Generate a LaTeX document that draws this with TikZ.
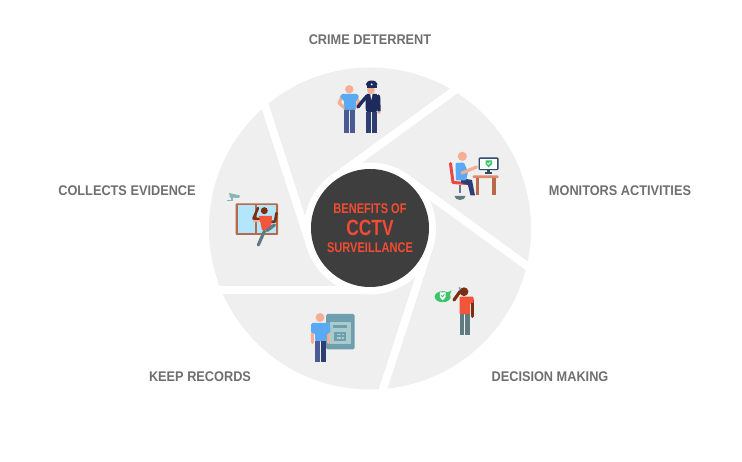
\documentclass[tikz,border=0pt]{standalone}
\usepackage{fontspec}
\setmainfont{Liberation Sans}
\newfontfamily\labelfont[FakeStretch=0.91]{Liberation Sans}
\newfontfamily\hubfont[FakeStretch=0.79]{Liberation Sans}
\definecolor{disc}{HTML}{EFEFEF}
\definecolor{hub}{HTML}{3E3E3E}
\definecolor{hubtext}{HTML}{F44B32}
\definecolor{labeltext}{HTML}{6F6F6F}
\definecolor{skin}{HTML}{F5AE93}
\definecolor{shirt}{HTML}{5AA9F5}
\definecolor{jeans}{HTML}{4A5A94}
\definecolor{navy}{HTML}{1D2B5C}
\definecolor{redshirt}{HTML}{F2553A}
\definecolor{brownskin}{HTML}{7A2F12}
\definecolor{slate}{HTML}{5F7A80}
\definecolor{wood}{HTML}{B8694A}
\definecolor{woodtop}{HTML}{E08A6B}
\definecolor{chair}{HTML}{F04545}
\definecolor{screen}{HTML}{2E4D6B}
\definecolor{safe}{HTML}{3CC46A}
\definecolor{glass}{HTML}{B3E5FC}
\definecolor{panel}{HTML}{6F9FAE}
\definecolor{panelin}{HTML}{A8CCCC}
\definecolor{camera}{HTML}{8CB4B8}
\tikzset{gap/.style={draw=white,line width=8pt}}
\tikzset{limb/.style={line cap=round,line join=round}}
\tikzset{caption/.style={font=\labelfont\bfseries\fontsize{14}{16}\selectfont,text=labeltext,inner sep=0pt}}
\tikzset{hubline/.style={font=\hubfont\bfseries\fontsize{14}{16}\selectfont,text=hubtext,inner sep=0pt}}

\begin{document}
\begin{tikzpicture}[x=1pt,y=-1pt]
    \useasboundingbox (0,0) rectangle (742,462);
    \fill[white] (0,0) rectangle (742,462);
    \fill[disc] (370,228.5) circle (161);
    \begin{scope}[shift={(370,228.5)}]
      \foreach \a in {-90,-162,126,54,-18}
        \draw[gap] (\a:62pt) -- ++(\a-90:156pt);
      \fill[white] (0,0) circle (66);
    \end{scope}
    \node[circle,fill=hub,minimum size=118pt,inner sep=0pt] (hubdisc) at (370,228) {};
    \node[hubline] (hubtop) at (370,208.5) {BENEFITS OF};
    \node[hubline,font=\hubfont\bfseries\fontsize{22}{24}\selectfont] (hubmid) at (370,227.5) {CCTV};
    \node[hubline] (hubbot) at (370,248) {SURVEILLANCE};
    \node[caption] (crime) at (370,40) {CRIME DETERRENT};
    \node[caption] (monitors) at (620,191) {MONITORS ACTIVITIES};
    \node[caption] (collects) at (127,191) {COLLECTS EVIDENCE};
    \node[caption] (records) at (200,377) {KEEP RECORDS};
    \node[caption] (decision) at (550,377) {DECISION MAKING};
    \fill[skin] (349.3,89.3) circle (4.2);
    \draw[limb,skin,line width=3.2pt] (342,97) -- (339,103) -- (347,110);
    \draw[limb,skin,line width=3.2pt] (356,97) -- (359,103) -- (352,110);
    \fill[shirt,rounded corners=1.5pt] (341,94) -- (358,94) -- (359,98) -- (356,100) -- (355.5,111) -- (344.5,111) -- (344,100) -- (340,98) -- cycle;
    \draw[limb,panel,line width=1.2pt] (345,109) -- (348.5,110);
    \draw[limb,panel,line width=1.2pt] (351,110) -- (354.5,109);
    \fill[jeans] (344.3,110.5) rectangle (349.2,132.7);
    \fill[jeans] (350.2,110.5) rectangle (355,132.7);
    \draw[limb,navy,line width=3.4pt] (367,96) -- (361,103) -- (358,107);
    \draw[limb,navy,line width=3.4pt] (378.5,96) -- (379,111);
    \fill[skin] (379,112.5) circle (1.6);
    \fill[skin] (371,90) circle (4);
    \fill[navy,rounded corners=1.5pt] (365.5,94) -- (378,94) -- (377.3,112) -- (365.8,112) -- cycle;
    \fill[white] (370.2,94) -- (372.5,94) -- (371.3,100) -- cycle;
    \fill[jeans!40!navy] (366,112) rectangle (370.8,132.7);
    \fill[jeans!40!navy] (372,112) rectangle (377,132.7);
    \fill[navy] (371.7,84.3) ellipse (5.8 and 3.8);
    \fill[navy] (367,86) rectangle (376.5,88);
    \fill[white] (371.7,84.3) circle (1);
    \draw[limb,chair,line width=3pt] (450.5,163.5) -- (453,182.5) -- (467,183.5);
    \draw[slate,line width=2pt] (460,185) -- (460,193);
    \fill[slate] (454.5,196) arc[start angle=180,end angle=360,x radius=5.5,y radius=-4] -- cycle;
    \fill[jeans!40!navy] (461,178) -- (472,180) -- (475,195.5) -- (470.5,195.5) -- (468,185) -- (461,183) -- cycle;
    \fill[skin] (462.3,156.3) circle (4.6);
    \fill[shirt,rounded corners=1pt] (455.5,163) -- (464,162.5) -- (468,172) -- (466,180.5) -- (456,180.5) -- cycle;
    \draw[limb,skin,line width=3.2pt] (462,173) -- (476.5,167);
    \fill[woodtop,rounded corners=1pt] (472.7,175.5) rectangle (498.5,178.2);
    \fill[wood] (475.7,178) rectangle (479,195.5);
    \fill[wood] (492,178) rectangle (495.5,195.5);
    \fill[screen,rounded corners=1pt] (478.7,157.3) rectangle (498.5,170.2);
    \fill[white] (480.3,159) rectangle (497,168.6);
    \fill[screen] (487,170) rectangle (490,172.5);
    \fill[screen] (485,172.5) rectangle (492,174);
    \fill[safe] (485.5,160.5) -- (492,160.5) -- (492,164) -- (488.7,167.5) -- (485.5,164) -- cycle;
    \draw[limb,white,line width=.7pt] (487.2,163) -- (488.5,164.3) -- (490.4,162);
    \fill[wood,rounded corners=1pt] (235.5,203.3) rectangle (278,235);
    \fill[glass] (237.5,205.5) rectangle (255,233);
    \fill[glass] (257,205.5) rectangle (276,233);
    \draw[limb,brownskin,line width=2.6pt] (258,208) -- (253.5,218.5) -- (259,219);
    \draw[limb,brownskin,line width=2.6pt] (276.5,213) -- (275,221.5) -- (270,222);
    \draw[limb,skin,line width=2pt] (253.5,220.8) -- (260,220.8);
    \fill[redshirt] (259,216) -- (272,216) -- (271,230) -- (262,230) -- cycle;
    \fill[brownskin] (264.3,210.7) circle (3.5);
    \draw[limb,slate,line width=3.2pt] (264.5,231) -- (258.3,245);
    \draw[limb,slate,line width=3.2pt] (267,230.5) -- (274.5,225);
    \fill[camera] (229,193) -- (240,195.5) -- (239,198) -- (230,197.5) -- cycle;
    \draw[camera,line width=1.5pt] (226.7,200.7) -- (232,200.7) -- (232,196);
    \fill[panel,rounded corners=1.5pt] (326,314) rectangle (354.5,349.5);
    \fill[panelin] (330,321.7) rectangle (350.7,344.3);
    \fill[panel] (333.3,325) rectangle (347.3,328.3);
    \fill[panel] (334.3,332.3) rectangle (345.7,341);
    \foreach \c in {337.5,340,342.5}
      \foreach \r in {334.5,338}
        \fill[panelin] (\c-1,\r-.7) rectangle (\c+1,\r+.7);
    \draw[limb,skin,line width=3.2pt] (312.8,331) -- (312.8,342.5);
    \draw[limb,skin,line width=3.2pt] (328.4,331) -- (328.4,342.5);
    \fill[skin] (320,317.5) circle (4.4);
    \fill[shirt,rounded corners=1.5pt] (311,323) -- (330,323) -- (330.5,333) -- (327,333) -- (327,341.5) -- (315,341.5) -- (315,333) -- (311,333) -- cycle;
    \fill[jeans] (315.3,341) rectangle (320.3,361.7);
    \fill[jeans!40!navy] (321.3,341) rectangle (326,361.7);
    \fill[safe] (442.7,296.7) ellipse (8 and 5.5);
    \fill[safe] (447,292.5) -- (451.5,290.5) -- (449,297) -- cycle;
    \fill[white] (439.8,292.5) -- (445.6,292.5) -- (445.6,297) -- (442.7,300.5) -- (439.8,297) -- cycle;
    \draw[limb,safe,line width=.8pt] (441.3,295.5) -- (442.5,296.8) -- (444.3,294.3);
    \draw[limb,shirt,line width=1.5pt] (459.3,287.5) -- (460.3,290);
    \draw[limb,brownskin,line width=3.2pt] (454,300) -- (460,291.5);
    \fill[brownskin] (464,291.7) circle (4.4);
    \draw[limb,brownskin,line width=3pt] (472,300) -- (472,316.5);
    \fill[redshirt,rounded corners=1pt] (459.5,296.7) -- (473.5,296.7) -- (473.5,303) -- (470.2,303) -- (470.2,314.5) -- (459.5,314.5) -- cycle;
    \fill[slate] (459.5,314.3) rectangle (464.2,335);
    \fill[slate] (465.3,314.3) rectangle (470,335);
  \end{tikzpicture}
\end{document}
